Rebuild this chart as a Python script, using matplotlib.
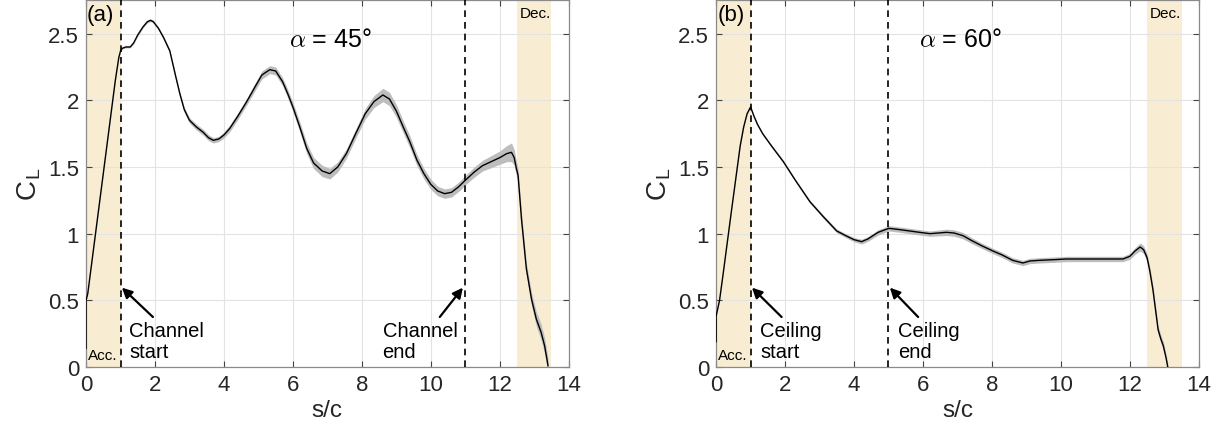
import numpy as np
import matplotlib
matplotlib.use('Agg')
import matplotlib.pyplot as plt

plt.rcParams['font.family'] = ['Liberation Sans', 'DejaVu Sans']
plt.rcParams['mathtext.fontset'] = 'cm'

# (a) alpha = 45 deg
s_a = [0.0, 0.0, 0.05, 0.1, 0.3, 0.5, 0.7, 0.85, 0.95, 1.0, 1.05, 1.15, 1.28, 1.38, 1.5,
       1.65, 1.78, 1.87, 1.95, 2.1, 2.25, 2.43, 2.6, 2.72, 2.85, 3.0, 3.2, 3.4, 3.55, 3.69,
       3.85, 4.0, 4.17, 4.4, 4.66, 4.9, 5.1, 5.33, 5.5, 5.7, 5.85, 6.0, 6.2, 6.4, 6.6,
       6.85, 7.07, 7.3, 7.55, 7.84, 8.1, 8.35, 8.61, 8.8, 9.0, 9.2, 9.39, 9.6, 9.8, 10.0,
       10.2, 10.4, 10.6, 10.8, 11.0, 11.25, 11.5, 11.75, 12.0, 12.2, 12.34, 12.42, 12.48, 12.53, 12.63,
       12.77, 12.92, 13.06, 13.2, 13.3, 13.4]
cl_a = [0.14, 0.50, 0.55, 0.65, 1.05, 1.45, 1.85, 2.15, 2.32, 2.37, 2.39, 2.40, 2.40, 2.43, 2.49,
        2.55, 2.59, 2.60, 2.59, 2.54, 2.47, 2.37, 2.18, 2.05, 1.93, 1.85, 1.80, 1.76, 1.72, 1.70,
        1.71, 1.74, 1.79, 1.88, 1.99, 2.10, 2.19, 2.23, 2.22, 2.14, 2.05, 1.95, 1.80, 1.64, 1.53,
        1.47, 1.45, 1.50, 1.60, 1.76, 1.90, 1.99, 2.04, 2.01, 1.92, 1.80, 1.69, 1.55, 1.45, 1.37,
        1.32, 1.30, 1.31, 1.35, 1.40, 1.46, 1.51, 1.54, 1.57, 1.60, 1.61, 1.57, 1.49, 1.44, 1.11,
        0.74, 0.51, 0.36, 0.26, 0.16, 0.01]
sd_a = [0.004, 0.004, 0.004, 0.004, 0.004, 0.004, 0.004, 0.005, 0.005, 0.006, 0.006, 0.007, 0.007, 0.008, 0.008,
        0.008, 0.01, 0.01, 0.01, 0.01, 0.012, 0.012, 0.014, 0.015, 0.018, 0.02, 0.022, 0.022, 0.022, 0.02,
        0.02, 0.022, 0.025, 0.025, 0.025, 0.028, 0.03, 0.03, 0.03, 0.03, 0.032, 0.035, 0.038, 0.04, 0.042,
        0.042, 0.04, 0.038, 0.035, 0.035, 0.04, 0.045, 0.05, 0.05, 0.048, 0.045, 0.045, 0.042, 0.04, 0.038,
        0.036, 0.035, 0.035, 0.035, 0.035, 0.038, 0.04, 0.045, 0.05, 0.06, 0.07, 0.06, 0.055, 0.05, 0.045,
        0.045, 0.05, 0.055, 0.06, 0.06, 0.06]

# (b) alpha = 60 deg
s_b = [0.0, 0.0, 0.1, 0.2, 0.45, 0.7, 0.8, 0.9, 1.0, 1.1, 1.2, 1.35, 1.6, 1.95, 2.3,
       2.72, 3.1, 3.5, 3.8, 4.0, 4.22, 4.4, 4.7, 5.01, 5.33, 5.62, 5.9, 6.2, 6.45, 6.68,
       6.9, 7.16, 7.4, 7.7, 8.03, 8.3, 8.6, 8.9, 9.1, 9.38, 9.8, 10.16, 10.6, 11.1, 11.5,
       11.8, 12.0, 12.15, 12.3, 12.4, 12.5, 12.58, 12.67, 12.75, 12.82, 12.9, 12.97, 13.05, 13.1]
cl_b = [0.19, 0.38, 0.50, 0.69, 1.18, 1.66, 1.80, 1.90, 1.95, 1.88, 1.82, 1.75, 1.66, 1.54, 1.40,
        1.24, 1.13, 1.02, 0.98, 0.955, 0.94, 0.96, 1.01, 1.04, 1.03, 1.02, 1.01, 1.00, 1.005, 1.01,
        1.005, 0.985, 0.95, 0.91, 0.87, 0.84, 0.80, 0.78, 0.795, 0.80, 0.805, 0.81, 0.81, 0.81, 0.81,
        0.81, 0.83, 0.87, 0.90, 0.88, 0.82, 0.72, 0.58, 0.42, 0.28, 0.21, 0.16, 0.07, 0.0]
sd_b = [0.004, 0.004, 0.004, 0.004, 0.004, 0.004, 0.004, 0.005, 0.005, 0.006, 0.007, 0.008, 0.009, 0.01, 0.01,
        0.011, 0.012, 0.014, 0.015, 0.016, 0.018, 0.018, 0.02, 0.02, 0.02, 0.02, 0.02, 0.02, 0.022, 0.024,
        0.024, 0.024, 0.022, 0.02, 0.02, 0.02, 0.02, 0.02, 0.02, 0.02, 0.02, 0.02, 0.02, 0.02, 0.02,
        0.02, 0.022, 0.025, 0.03, 0.03, 0.03, 0.03, 0.03, 0.03, 0.03, 0.03, 0.03, 0.03, 0.03]

# note: (label, x of dashed line, text x, arrow tail x)
panels = [
    dict(s=s_a, cl=cl_a, sd=sd_a, tag='(a)', alpha=r'$\alpha$ = 45°', lines=[1, 11],
         notes=[('Channel\nstart', 1, 1.25, 1.94), ('Channel\nend', 11, 8.6, 10.26)]),
    dict(s=s_b, cl=cl_b, sd=sd_b, tag='(b)', alpha=r'$\alpha$ = 60°', lines=[1, 5],
         notes=[('Ceiling\nstart', 1, 1.28, 1.9), ('Ceiling\nend', 5, 5.28, 5.86)]),
]

shade = '#F8EDD2'
txtc = '#262626'
fig = plt.figure(figsize=(12.22, 4.35), dpi=100)
lefts = [0.0704, 0.586]

for left, p in zip(lefts, panels):
    ax = fig.add_axes([left, 0.154, 0.395, 0.843])
    ax.axvspan(0, 1, color=shade, lw=0, zorder=0)
    ax.axvspan(12.5, 13.5, color=shade, lw=0, zorder=0)
    s = np.array(p['s'])
    cl = np.array(p['cl'])
    sd = np.array(p['sd'])
    ax.fill_between(s, cl - sd, cl + sd, color='#BDBDBD', lw=0, zorder=2)
    ax.plot(s, cl, color='black', lw=1.0, zorder=3)
    for xv in p['lines']:
        ax.axvline(xv, color='black', ls=(0, (4, 3)), lw=1.2, zorder=4)
    for txt, xv, tx, ax_tail in p['notes']:
        hx = xv + 0.04 if ax_tail > xv else xv - 0.07
        ax.annotate('', xy=(hx, 0.595), xytext=(ax_tail, 0.375),
                    arrowprops=dict(arrowstyle='-|>', color='black', lw=1.6,
                                    mutation_scale=15, shrinkA=0, shrinkB=0), zorder=5)
        ax.text(tx, 0.045, txt, ha='left', va='bottom', fontsize=14.5, linespacing=1.15)
    ax.text(0.03, 2.72, p['tag'], ha='left', va='top', fontsize=16)
    ax.text(0.06, 0.035, 'Acc.', ha='left', va='bottom', fontsize=11)
    ax.text(13.03, 2.71, 'Dec.', ha='center', va='top', fontsize=11)
    ax.text(5.88, 2.46, p['alpha'], ha='left', va='center', fontsize=18)

    ax.set_xlim(0, 14)
    ax.set_ylim(0, 2.75)
    ax.set_xticks([0, 2, 4, 6, 8, 10, 12, 14])
    ax.set_yticks([0, 0.5, 1, 1.5, 2, 2.5])
    ax.set_yticklabels(['0', '0.5', '1', '1.5', '2', '2.5'])
    ax.grid(True, color='#E3E3E3', lw=0.8, zorder=1)
    ax.set_axisbelow(True)
    ax.tick_params(direction='in', top=True, right=True, labelsize=16, length=4,
                   color='#444444', labelcolor=txtc, pad=5)
    for sp in ax.spines.values():
        sp.set_color('#8A8A8A')
        sp.set_linewidth(0.9)
    ax.set_xlabel('s/c', fontsize=17.5, color=txtc, labelpad=3)
    ax.set_ylabel(r'C$_\mathregular{L}$', fontsize=20, color=txtc, labelpad=4)

fig.savefig('out.png', dpi=100)
